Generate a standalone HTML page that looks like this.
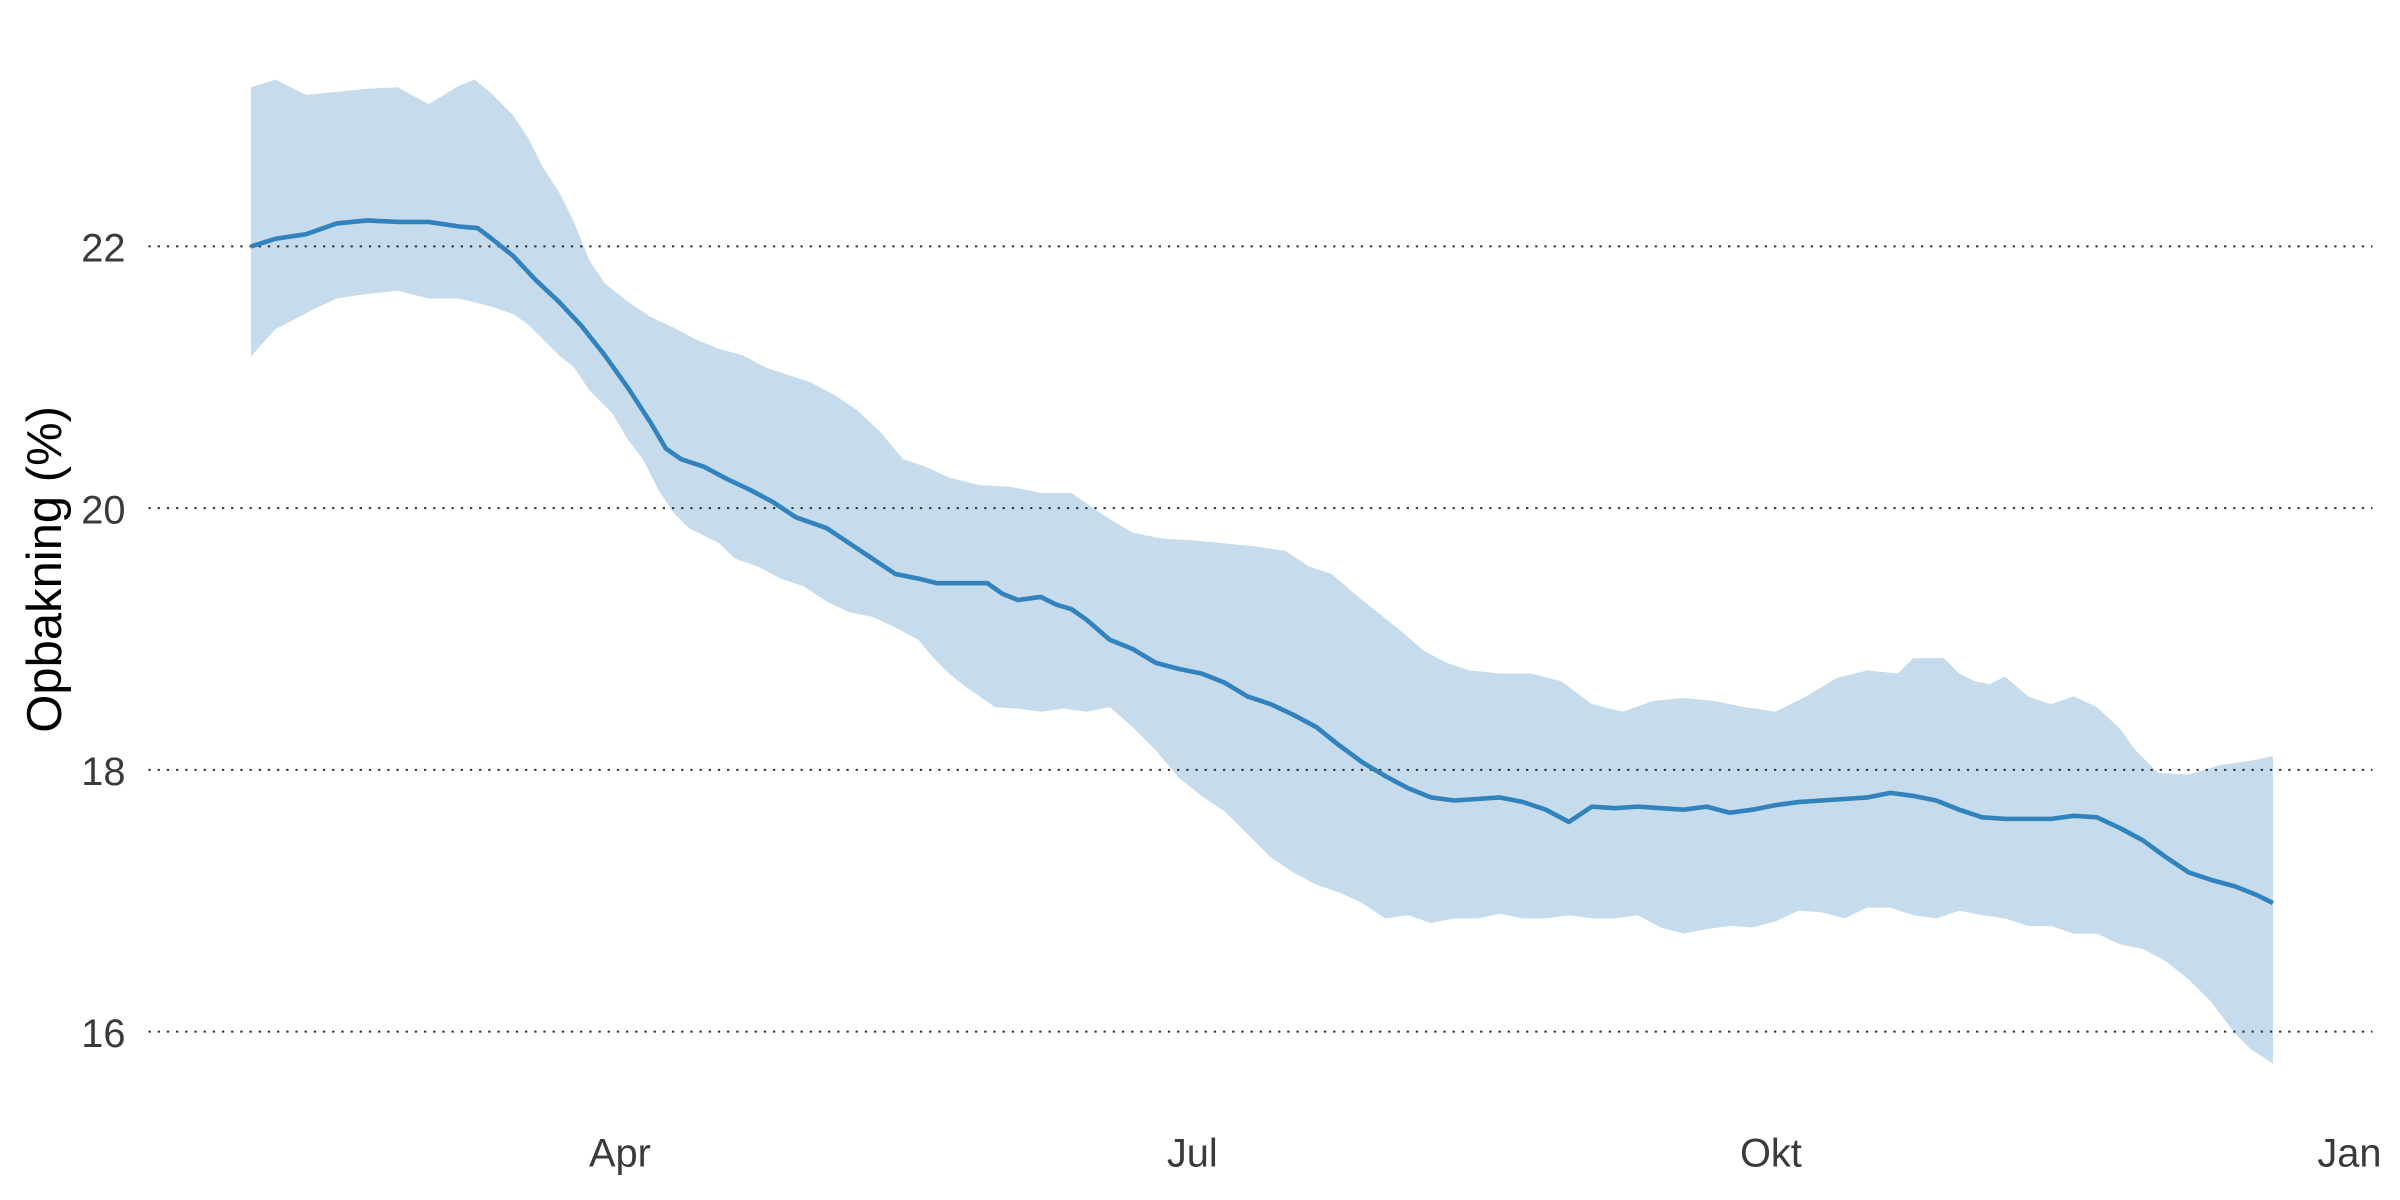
<!DOCTYPE html>
<html><head><meta charset="utf-8"><style>html,body{margin:0;padding:0;background:#fff}svg{display:block}</style></head>
<body>
<svg width="2400" height="1200" viewBox="0 0 1568 784" xmlns="http://www.w3.org/2000/svg" font-family="Liberation Sans, sans-serif">
<rect width="1568" height="784" fill="#fff"/>
<polygon fill="#c6dcec" points="164,57 180,52 200,62 220,60 240,58 260,57 280,68 300,56 310,52 320,60 335,75 345,90 355,110 365,125 375,145 385,170 395,185 410,197 425,207 440,214 455,222 470,228 485,232 500,240 515,245 530,250 545,258 560,268 575,282 590,300 605,305 620,312 640,317 660,318 680,322 700,322 720,336 740,348 760,352 780,353 800,355 820,357 840,360 855,370 870,375 885,388 900,400 915,412 930,425 945,433 960,438 980,440 1000,440 1020,445 1040,460 1060,465 1080,458 1100,456 1120,458 1140,462 1160,465 1180,455 1200,443 1220,438 1240,440 1250,430 1270,430 1280,440 1290,445 1300,447 1310,442 1325,455 1340,460 1355,455 1370,462 1385,476 1395,490 1410,505 1430,506 1450,500 1470,497 1485,494 1485,695 1470,685 1460,675 1445,655 1430,640 1415,628 1400,620 1385,617 1370,610 1355,610 1340,605 1325,605 1310,600 1295,598 1280,595 1265,600 1250,598 1235,593 1220,593 1205,600 1190,596 1175,595 1160,602 1145,606 1130,605 1115,607 1100,610 1085,606 1070,598 1055,600 1040,600 1025,598 1010,600 995,600 980,597 965,600 950,600 935,603 920,598 905,600 890,590 875,583 860,578 845,570 830,560 815,545 800,530 785,520 770,508 755,490 740,475 725,462 710,465 695,463 680,465 665,463 650,462 640,455 630,448 620,440 610,430 600,418 585,410 570,403 555,400 540,393 525,383 510,378 495,370 480,365 470,355 460,350 450,345 440,335 430,320 420,300 410,287 400,270 385,255 375,240 365,232 355,222 345,212 335,205 320,200 300,195 280,195 260,190 240,192 220,195 205,202 190,210 180,215 170,226 164,233"/>
<g stroke="#333" stroke-width="1.3" stroke-dasharray="1.5,4.5">
<line x1="97" y1="161" x2="1550" y2="161"/>
<line x1="97" y1="332" x2="1550" y2="332"/>
<line x1="97" y1="503" x2="1550" y2="503"/>
<line x1="97" y1="674" x2="1550" y2="674"/>
</g>
<polyline fill="none" stroke="#3182bd" stroke-width="3" stroke-linejoin="round" points="164,161 180,156 200,153 220,146 240,144 260,145 280,145 300,148 312,149 320,155 335,167 350,183 365,197 380,213 395,232 410,253 425,276 435,293 445,300 460,305 475,313 490,320 505,328 520,338 540,345 555,355 570,365 585,375 600,378 612,381 625,381 645,381 655,388 665,392 680,390 690,395 700,398 710,405 725,418 740,424 755,433 770,437 785,440 800,446 815,455 830,460 845,467 860,475 875,487 890,498 905,507 920,515 935,521 950,523 965,522 980,521 995,524 1010,529 1025,537 1040,527 1055,528 1070,527 1085,528 1100,529 1115,527 1130,531 1145,529 1160,526 1175,524 1190,523 1205,522 1220,521 1235,518 1250,520 1265,523 1280,529 1295,534 1310,535 1325,535 1340,535 1355,533 1370,534 1385,541 1400,549 1415,560 1430,570 1445,575 1460,579 1475,585 1485,590"/>
<g fill="#3a3a3a" font-size="26" text-anchor="end">
<text x="82" y="171">22</text>
<text x="82" y="342">20</text>
<text x="82" y="513">18</text>
<text x="82" y="684">16</text>
</g>
<g fill="#3a3a3a" font-size="26" text-anchor="middle">
<text x="405" y="762">Apr</text>
<text x="779" y="762">Jul</text>
<text x="1157" y="762">Okt</text>
<text x="1535" y="762">Jan</text>
</g>
<text transform="translate(40,372) rotate(-90)" font-size="32" text-anchor="middle" fill="#000">Opbakning (%)</text>
</svg>
</body></html>
